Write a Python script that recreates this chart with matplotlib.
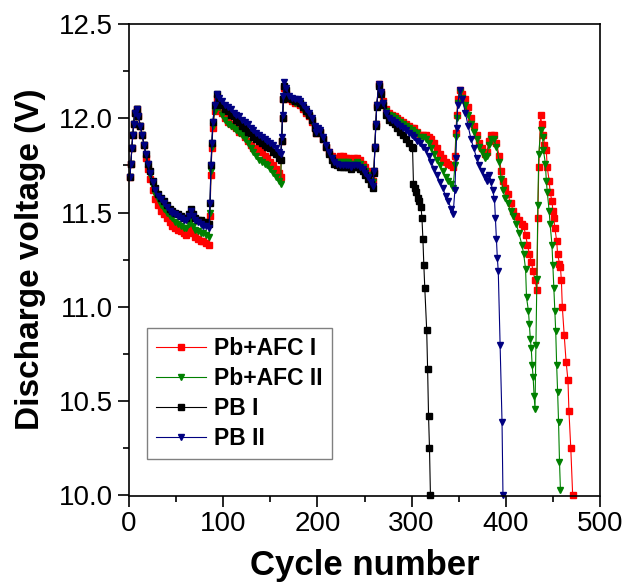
import matplotlib
matplotlib.use("Agg")
import matplotlib.pyplot as plt
from matplotlib.ticker import MultipleLocator

# ---------------- data ----------------
cyc1 = [1, 2, 3, 4, 5, 6, 8, 10, 12, 14, 16, 18, 20, 22, 25, 28, 31, 34, 37, 40,
        43, 46, 49, 52, 55, 58, 61, 64, 66, 68, 70, 73, 76, 79, 82, 85]
cyc2 = [86, 87, 88, 89, 91, 93, 96, 99, 102, 105, 108, 111, 114, 117, 120, 123,
        126, 129, 132, 135, 138, 141, 144, 147, 150, 153, 156, 159, 161]
cyc3 = [162, 163, 164, 165, 167, 170, 173, 176, 179, 182, 185, 188, 191, 194, 197,
        199, 201, 203, 206, 209, 212, 215, 218, 221, 224, 227, 230, 233, 236, 239,
        242, 245, 248, 251, 254, 257, 259]
cyc4 = [260, 261, 262, 263, 265, 267, 270, 273, 276, 279, 282, 285, 288, 291, 294,
        297, 300, 303, 306, 309, 312, 315, 318, 321, 324, 327, 330, 333, 336, 339,
        342, 344]

# Pb+AFC I (red)
red_v1 = [11.69, 11.76, 11.84, 11.91, 11.97, 12.03, 12.05, 12.01, 11.96, 11.91, 11.86,
          11.79, 11.73, 11.68, 11.62, 11.57, 11.54, 11.51, 11.49, 11.47, 11.45, 11.43,
          11.42, 11.41, 11.40, 11.39, 11.38, 11.40, 11.43, 11.39, 11.37, 11.36, 11.35,
          11.35, 11.34, 11.33]
red_v2 = [11.48, 11.70, 11.84, 11.95, 12.04, 12.11, 12.07, 12.03, 12.00, 11.98, 11.97,
          11.96, 11.95, 11.93, 11.92, 11.90, 11.88, 11.86, 11.84, 11.84, 11.83, 11.82,
          11.80, 11.79, 11.77, 11.75, 11.73, 11.71, 11.69]
red_v3 = [11.88, 12.00, 12.10, 12.16, 12.13, 12.10, 12.09, 12.08, 12.08, 12.07, 12.05,
          12.03, 12.01, 11.98, 11.95, 11.92, 11.94, 11.93, 11.89, 11.85, 11.82, 11.80,
          11.79, 11.79, 11.80, 11.80, 11.79, 11.79, 11.78, 11.79, 11.79, 11.78, 11.76,
          11.74, 11.72, 11.69, 11.67]
red_v4 = [11.72, 11.85, 11.97, 12.07, 12.18, 12.14, 12.09, 12.05, 12.03, 12.02, 12.01,
          12.00, 11.99, 11.98, 11.97, 11.96, 11.95, 11.95, 11.93, 11.91, 11.91, 11.91,
          11.90, 11.89, 11.87, 11.84, 11.81, 11.79, 11.77, 11.76, 11.75, 11.74]
red_c5 = [346, 347, 348, 349, 351, 354, 357, 360, 363, 366, 369, 372, 375, 378, 380,
          382, 384, 387, 390, 393, 395, 397, 399, 402, 405, 408, 411, 414, 417, 419,
          421, 423, 425, 427, 429, 431, 433, 434, 435, 437, 438, 440, 441, 443, 444,
          446, 447, 449, 450, 451, 452, 454, 455, 457, 458, 459, 460, 462, 464, 466,
          467, 469, 471]
red_v5 = [11.80, 11.92, 12.02, 12.10, 12.15, 12.13, 12.10, 12.06, 12.00, 11.96, 11.91,
          11.87, 11.84, 11.81, 11.82, 11.88, 11.91, 11.91, 11.87, 11.80, 11.72, 11.67,
          11.63, 11.60, 11.55, 11.51, 11.48, 11.46, 11.44, 11.43, 11.38, 11.33, 11.28,
          11.24, 11.19, 11.14, 11.09, 11.47, 11.74, 12.02, 11.97, 11.91, 11.86, 11.83,
          11.74, 11.67, 11.61, 11.56, 11.51, 11.47, 11.42, 11.35, 11.28, 11.23, 11.21,
          11.14, 11.00, 10.85, 10.71, 10.61, 10.45, 10.25, 10.00]

# Pb+AFC II (green)
green_v1 = [11.69, 11.76, 11.84, 11.91, 11.97, 12.03, 12.05, 12.01, 11.96, 11.91, 11.86,
            11.80, 11.74, 11.70, 11.64, 11.60, 11.57, 11.54, 11.52, 11.50, 11.48, 11.47,
            11.45, 11.44, 11.43, 11.42, 11.42, 11.44, 11.47, 11.43, 11.41, 11.40, 11.39,
            11.39, 11.38, 11.37]
green_v2 = [11.50, 11.72, 11.85, 11.96, 12.04, 12.10, 12.06, 12.02, 11.99, 11.97, 11.96,
            11.95, 11.94, 11.92, 11.91, 11.89, 11.87, 11.84, 11.82, 11.80, 11.78, 11.77,
            11.76, 11.75, 11.73, 11.71, 11.69, 11.67, 11.65]
green_v3 = [11.88, 12.00, 12.10, 12.16, 12.13, 12.10, 12.09, 12.08, 12.08, 12.07, 12.05,
            12.03, 12.01, 11.98, 11.95, 11.92, 11.94, 11.93, 11.89, 11.85, 11.81, 11.79,
            11.77, 11.77, 11.77, 11.77, 11.77, 11.77, 11.76, 11.76, 11.77, 11.76, 11.74,
            11.72, 11.70, 11.67, 11.66]
green_v4 = [11.72, 11.85, 11.97, 12.07, 12.17, 12.13, 12.08, 12.04, 12.02, 12.01, 12.00,
            11.99, 11.98, 11.97, 11.96, 11.95, 11.94, 11.93, 11.92, 11.90, 11.90, 11.89,
            11.87, 11.84, 11.81, 11.78, 11.75, 11.72, 11.69, 11.67, 11.65, 11.63]
green_c5 = [346, 347, 348, 349, 351, 354, 357, 360, 363, 366, 369, 372, 375, 378, 380,
            382, 384, 387, 390, 393, 395, 397, 399, 402, 405, 408, 411, 414, 417, 419,
            421, 422, 424, 425, 426, 427, 428, 429, 430, 431, 432, 433, 434, 435, 437,
            439, 440, 442, 443, 444, 446, 447, 449, 450, 451, 452, 453, 454, 455, 456,
            457, 458]
green_v5 = [11.75, 11.90, 12.00, 12.08, 12.14, 12.11, 12.07, 12.02, 11.97, 11.93, 11.89,
            11.85, 11.82, 11.79, 11.80, 11.86, 11.89, 11.89, 11.85, 11.77, 11.68, 11.62,
            11.58, 11.55, 11.51, 11.48, 11.44, 11.39, 11.33, 11.28, 11.20, 11.05, 10.98,
            10.91, 10.83, 10.78, 10.69, 10.63, 10.53, 10.46, 10.80, 11.15, 11.54, 11.81,
            11.94, 11.90, 11.83, 11.76, 11.67, 11.61, 11.51, 11.44, 11.33, 11.22, 11.10,
            10.98, 10.87, 10.69, 10.55, 10.39, 10.18, 10.03]

# PB I (black)
black_v1 = [11.69, 11.76, 11.84, 11.91, 11.97, 12.03, 12.05, 12.01, 11.96, 11.91, 11.86,
            11.81, 11.76, 11.72, 11.67, 11.63, 11.60, 11.58, 11.56, 11.54, 11.52, 11.51,
            11.50, 11.49, 11.48, 11.47, 11.47, 11.49, 11.52, 11.49, 11.47, 11.46, 11.46,
            11.45, 11.45, 11.44]
black_v2 = [11.55, 11.75, 11.87, 11.98, 12.07, 12.13, 12.09, 12.07, 12.05, 12.04, 12.02,
            12.01, 11.99, 11.98, 11.96, 11.95, 11.93, 11.92, 11.90, 11.89, 11.88, 11.87,
            11.86, 11.85, 11.84, 11.82, 11.81, 11.79, 11.78]
black_v3 = [11.88, 12.00, 12.10, 12.17, 12.15, 12.11, 12.10, 12.09, 12.09, 12.08, 12.06,
            12.04, 12.02, 11.99, 11.95, 11.92, 11.94, 11.93, 11.89, 11.85, 11.81, 11.78,
            11.76, 11.75, 11.74, 11.74, 11.74, 11.74, 11.73, 11.74, 11.74, 11.73, 11.72,
            11.70, 11.68, 11.65, 11.63]
black_c4 = [260, 261, 262, 263, 265, 267, 270, 273, 276, 279, 282, 285, 288, 291, 294,
            297, 300, 301, 302, 304, 305, 307, 308, 310, 311, 312, 313, 314, 316, 317,
            318, 319, 320]
black_v4 = [11.71, 11.84, 11.96, 12.06, 12.17, 12.13, 12.07, 12.02, 11.99, 11.98, 11.97,
            11.95, 11.93, 11.91, 11.89, 11.87, 11.85, 11.84, 11.65, 11.63, 11.61, 11.58,
            11.56, 11.53, 11.47, 11.36, 11.22, 11.10, 10.88, 10.67, 10.42, 10.25, 10.00]

# PB II (blue)
blue_v1 = [11.69, 11.76, 11.84, 11.91, 11.97, 12.03, 12.05, 12.01, 11.96, 11.91, 11.86,
           11.81, 11.76, 11.71, 11.66, 11.62, 11.59, 11.57, 11.55, 11.53, 11.51, 11.50,
           11.49, 11.48, 11.47, 11.46, 11.46, 11.48, 11.51, 11.48, 11.46, 11.45, 11.44,
           11.43, 11.43, 11.42]
blue_v2 = [11.55, 11.75, 11.87, 11.98, 12.07, 12.13, 12.11, 12.09, 12.07, 12.06, 12.05,
           12.03, 12.02, 12.01, 11.99, 11.98, 11.97, 11.95, 11.94, 11.92, 11.91, 11.90,
           11.89, 11.88, 11.87, 11.86, 11.84, 11.82, 11.81]
blue_v3 = [11.90, 12.02, 12.12, 12.19, 12.16, 12.12, 12.11, 12.10, 12.10, 12.09, 12.07,
           12.05, 12.03, 12.00, 11.96, 11.93, 11.95, 11.94, 11.90, 11.86, 11.82, 11.79,
           11.77, 11.76, 11.75, 11.75, 11.75, 11.75, 11.74, 11.75, 11.75, 11.74, 11.73,
           11.71, 11.69, 11.66, 11.64]
blue_v4 = [11.72, 11.85, 11.97, 12.07, 12.18, 12.14, 12.08, 12.03, 12.00, 11.99, 11.98,
           11.97, 11.96, 11.95, 11.94, 11.92, 11.91, 11.90, 11.88, 11.87, 11.85, 11.83,
           11.80, 11.77, 11.73, 11.70, 11.66, 11.63, 11.59, 11.56, 11.52, 11.49]
blue_c5 = [346, 347, 348, 349, 351, 354, 357, 360, 363, 366, 369, 372, 375, 378, 380,
           382, 384, 386, 388, 389, 390, 391, 392, 394, 396, 397]
blue_v5 = [11.62, 11.79, 11.95, 12.07, 12.15, 12.10, 12.03, 11.96, 11.89, 11.84, 11.79,
           11.75, 11.72, 11.69, 11.67, 11.70, 11.66, 11.62, 11.57, 11.47, 11.36, 11.26,
           11.19, 10.80, 10.39, 10.00]

series = [
    ("Pb+AFC I", cyc1 + cyc2 + cyc3 + cyc4 + red_c5,
     red_v1 + red_v2 + red_v3 + red_v4 + red_v5, "#ff0000", "s"),
    ("Pb+AFC II", cyc1 + cyc2 + cyc3 + cyc4 + green_c5,
     green_v1 + green_v2 + green_v3 + green_v4 + green_v5, "#008000", "v"),
    ("PB I", cyc1 + cyc2 + cyc3 + black_c4,
     black_v1 + black_v2 + black_v3 + black_v4, "#000000", "s"),
    ("PB II", cyc1 + cyc2 + cyc3 + cyc4 + blue_c5,
     blue_v1 + blue_v2 + blue_v3 + blue_v4 + blue_v5, "#000080", "v"),
]

x_ticks = [0, 100, 200, 300, 400, 500]
y_ticks = [10.0, 10.5, 11.0, 11.5, 12.0, 12.5]

# ---------------- plot ----------------
plt.rcParams['font.family'] = ['Liberation Sans', 'DejaVu Sans']

fig = plt.figure(figsize=(6.27, 5.83), dpi=100)
ax = fig.add_axes([129 / 627, 1 - 495.5 / 583, 471 / 627, 471.5 / 583])

for label, xs, ys, col, mk in series:
    ms = 4.0 if mk == "s" else 5.0
    ax.plot(xs, ys, color=col, lw=0.8, marker=mk, ms=ms, mec=col, mfc=col,
            label=label, clip_on=False)

ax.set_xlim(0, 500)
ax.set_ylim(10.0, 12.5)
ax.set_xticks(x_ticks)
ax.set_yticks(y_ticks)
ax.set_yticklabels([f"{v:.1f}" for v in y_ticks])
ax.xaxis.set_minor_locator(MultipleLocator(50))
ax.yaxis.set_minor_locator(MultipleLocator(0.25))
ax.tick_params(which='both', direction='out', top=False, right=False, width=1.2,
               labelsize=20)
ax.tick_params(which='major', length=8)
ax.tick_params(which='minor', length=4.5)
for sp in ax.spines.values():
    sp.set_linewidth(1.2)

ax.set_xlabel("Cycle number", fontsize=25, fontweight='bold', labelpad=8)
ax.set_ylabel("Discharge voltage (V)", fontsize=24, fontweight='bold', labelpad=9)

leg = ax.legend(loc='lower left', bbox_to_anchor=(0.013, 0.053), fancybox=False,
                edgecolor='#808080', framealpha=1, numpoints=1, handlelength=2.2,
                handletextpad=0.35, labelspacing=0.3, borderpad=0.4,
                prop={'weight': 'bold', 'size': 16.5})
leg.get_frame().set_linewidth(1.0)

fig.savefig("out.png", dpi=100)
